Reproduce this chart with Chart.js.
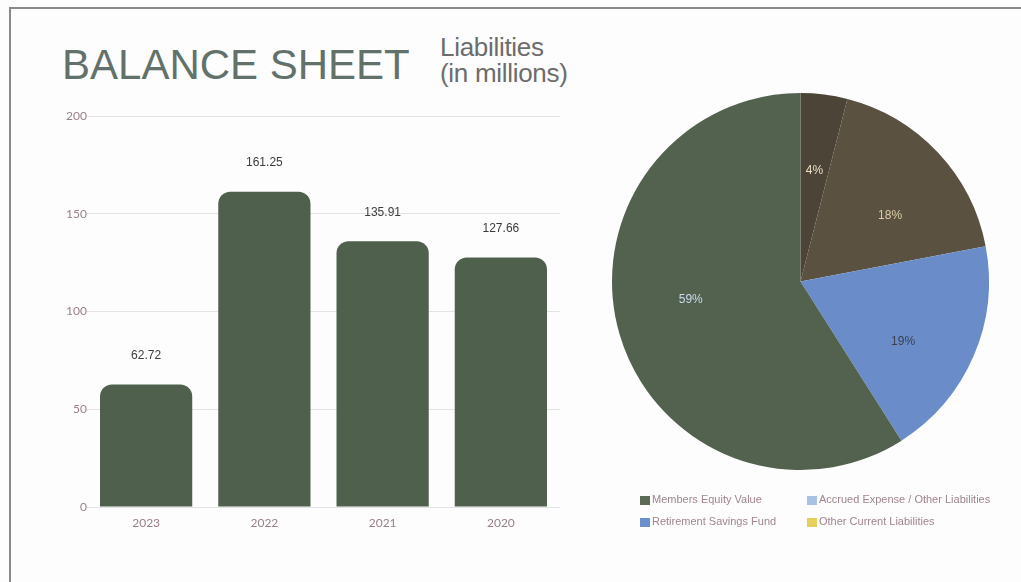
<!DOCTYPE html>
<html>
<head>
<meta charset="utf-8">
<script src="https://cdn.jsdelivr.net/npm/chart.js@4.4.1/dist/chart.umd.min.js"></script>
<style>
  html, body { margin: 0; padding: 0; background: #fdfdfd; }
  body { width: 1021px; height: 582px; position: relative; overflow: hidden; font-family: "Liberation Sans", Arial, sans-serif; }
  #frame { position: absolute; left: 9px; top: 7px; width: 1100px; height: 700px; border-left: 2px solid #8a8a8a; border-top: 2px solid #8a8a8a; }
  #title { position: absolute; left: 62px; top: 41px; font-size: 42px; color: #62716a; white-space: nowrap; }
  #subtitle { position: absolute; left: 440px; top: 34px; font-size: 26px; line-height: 26px; color: #6c6c6c; white-space: nowrap; letter-spacing: -0.3px; }
  #barWrap { position: absolute; left: 40px; top: 100px; width: 520px; height: 437px; }
  #pieWrap { position: absolute; left: 600px; top: 80px; width: 421px; height: 460px; }
</style>
</head>
<body>
<div id="frame"></div>
<div id="title">BALANCE SHEET</div>
<div id="subtitle">Liabilities<br>(in millions)</div>
<div id="barWrap"><canvas id="bar"></canvas></div>
<div id="pieWrap"><canvas id="pie"></canvas></div>
<script>
// ---- data ----
const years = ["2023", "2022", "2021", "2020"];
const liabilities = [62.72, 161.25, 135.91, 127.66];
const yTicks = [0, 50, 100, 150, 200];

const categories = ["Members Equity Value", "Accrued Expense / Other Liabilities", "Retirement Savings Fund", "Other Current Liabilities"];
const shares = [59, 18, 19, 4];
const legendColors = ["#5b6b56", "#a9c1e2", "#6b90cf", "#e6cf5c"];
// slice order clockwise from 12 o'clock (indices into categories)
const pieOrder = [3, 1, 2, 0];
const sliceColors = ["#4c4437", "#5a5141", "#6a8dc9", "#52624f"];
const sliceTextColors = ["#eadfc4", "#dccca6", "#3a4150", "#cbd9ee"];

const tickColor = "#9a8088";

// ---- bar chart ----
const barLabels = {
  id: "barLabels",
  afterDatasetsDraw(chart) {
    const ctx = chart.ctx;
    const meta = chart.getDatasetMeta(0);
    ctx.save();
    ctx.font = "12px 'Liberation Sans', Arial, sans-serif";
    ctx.fillStyle = "#3c3c3c";
    ctx.textAlign = "center";
    ctx.textBaseline = "middle";
    meta.data.forEach((el, i) => {
      ctx.fillText(liabilities[i].toFixed(2), el.x, el.y - 29);
    });
    ctx.restore();
  }
};

new Chart(document.getElementById("bar"), {
  type: "bar",
  data: {
    labels: years,
    datasets: [{
      data: liabilities,
      backgroundColor: "#4f604c",
      borderRadius: { topLeft: 12, topRight: 12, bottomLeft: 0, bottomRight: 0 },
      borderSkipped: "bottom",
      barPercentage: 0.78,
      categoryPercentage: 1.0
    }]
  },
  options: {
    responsive: true,
    maintainAspectRatio: false,
    animation: false,
    layout: { padding: { top: 16, right: 0, left: 0, bottom: 0 } },
    plugins: { legend: { display: false }, tooltip: { enabled: false } },
    scales: {
      x: {
        grid: { display: false },
        border: { display: false },
        ticks: { color: tickColor, font: { family: "Lato, sans-serif", size: 12 }, padding: 1 },
        afterFit: (s) => { s.height = 30; }
      },
      y: {
        min: 0, max: 200,
        afterBuildTicks: (s) => { s.ticks = yTicks.map(v => ({ value: v })); },
        grid: { color: "rgba(205,205,210,0.55)", lineWidth: 1, tickLength: 0 },
        border: { display: false },
        ticks: { color: tickColor, font: { family: "Lato, sans-serif", size: 12 }, padding: 0 },
        afterFit: (s) => { s.width = 47; }
      }
    }
  },
  plugins: [barLabels]
});

// ---- pie chart ----
const pieValueLabels = {
  id: "pieValueLabels",
  afterDatasetsDraw(chart) {
    const ctx = chart.ctx;
    const meta = chart.getDatasetMeta(0);
    ctx.save();
    ctx.font = "12px 'Liberation Sans', Arial, sans-serif";
    ctx.textAlign = "center";
    ctx.textBaseline = "middle";
    meta.data.forEach((arc, i) => {
      const p = arc.getProps(["x", "y", "startAngle", "endAngle", "outerRadius"], true);
      const a = (p.startAngle + p.endAngle) / 2 + (i === 0 ? 0 : 0.12);
      const r = p.outerRadius * (i === 2 ? 0.63 : 0.59);
      ctx.fillStyle = sliceTextColors[i];
      ctx.fillText(shares[pieOrder[i]] + "%", p.x + Math.cos(a) * r, p.y + Math.sin(a) * r);
    });
    ctx.restore();
  }
};

const gridLegend = {
  id: "gridLegend",
  afterDraw(chart) {
    const ctx = chart.ctx;
    const colX = [40, 207];
    const rowY = [420, 442];
    ctx.save();
    ctx.font = "11px 'Liberation Sans', Arial, sans-serif";
    ctx.textBaseline = "middle";
    categories.forEach((name, i) => {
      const x = colX[i % 2], y = rowY[Math.floor(i / 2)];
      ctx.fillStyle = legendColors[i];
      ctx.fillRect(x, y - 4, 10, 9);
      ctx.fillStyle = "#a0848f";
      ctx.fillText(name, x + 12, y);
    });
    ctx.restore();
  }
};

new Chart(document.getElementById("pie"), {
  type: "pie",
  data: {
    labels: pieOrder.map(i => categories[i]),
    datasets: [{
      data: pieOrder.map(i => shares[i]),
      backgroundColor: sliceColors,
      borderWidth: 0
    }]
  },
  options: {
    responsive: true,
    maintainAspectRatio: false,
    animation: false,
    layout: { padding: { left: 12, right: 32, top: 13, bottom: 70 } },
    plugins: { legend: { display: false }, tooltip: { enabled: false } }
  },
  plugins: [pieValueLabels, gridLegend]
});
</script>
</body>
</html>
